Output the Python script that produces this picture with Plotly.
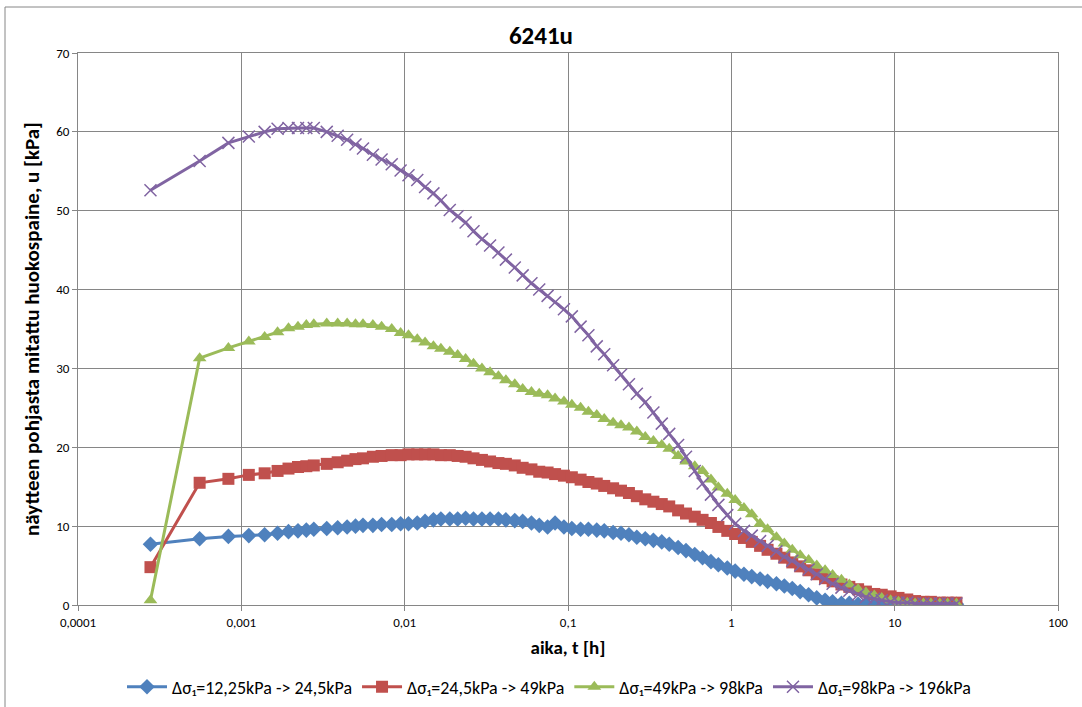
import plotly.graph_objects as go

# time in seconds (converted to hours for plotting)
time_s = [1, 2, 3, 4, 5, 6, 7, 8, 9, 10, 12, 14, 16, 18, 20, 23, 26, 30, 34, 38,
          43, 48, 54, 60, 68, 76, 85, 95, 107, 120, 135, 150, 170, 190, 215, 240,
          270, 300, 340, 380, 430, 480, 540, 600, 680, 760, 850, 950, 1070, 1200,
          1350, 1500, 1700, 1900, 2150, 2400, 2700, 3000, 3400, 3800, 4300, 4800,
          5400, 6000, 6800, 7600, 8500, 9500, 10700, 12000, 13500, 15000, 17000,
          19000, 21500, 24000, 27000, 30000, 34000, 38000, 43000, 48000, 54000,
          60000, 68000, 76000, 86000]
time_h = [t / 3600.0 for t in time_s]

u_blue = [7.7, 8.4, 8.7, 8.8, 8.9, 9.1, 9.3, 9.4, 9.5, 9.6, 9.7, 9.8, 9.9, 10.0, 10.1, 10.1, 10.2, 10.2, 10.3, 10.3,
          10.4, 10.6, 10.8, 10.9, 10.9, 10.9, 11.0, 10.9, 10.9, 10.9, 10.9, 10.8, 10.7, 10.6, 10.4, 10.1,
          9.9, 10.4, 9.9, 9.7, 9.6, 9.6, 9.5, 9.4, 9.2, 9.1, 8.9, 8.6, 8.4, 8.2,
          8.0, 7.7, 7.3, 6.9, 6.4, 6.0, 5.5, 5.1, 4.7, 4.3, 3.9, 3.6,
          3.3, 3.0, 2.7, 2.4, 2.1, 1.7, 1.3, 0.9, 0.6, 0.4, 0.2,
          0.2, 0.1, 0.1, 0.1, 0.1, 0.1, 0.1, 0.1, 0.1, 0.1,
          0.1, 0.1, 0.1, 0.1]
u_red = [4.8, 15.5, 16.0, 16.5, 16.7, 17.0, 17.3, 17.5, 17.6, 17.7, 17.9, 18.1, 18.3, 18.5, 18.6, 18.8, 18.9, 19.0, 19.0, 19.1,
         19.1, 19.1, 19.1, 19.0, 19.0, 18.9, 18.8, 18.6, 18.4, 18.2, 18.0, 17.9, 17.7, 17.4, 17.2, 16.9,
         16.8, 16.6, 16.4, 16.2, 15.9, 15.6, 15.4, 15.1, 14.8, 14.5, 14.2, 13.8, 13.4, 13.1,
         12.8, 12.5, 12.0, 11.6, 11.2, 10.8, 10.4, 9.9, 9.4, 9.0, 8.5, 8.0,
         7.5, 7.0, 6.5, 6.0, 5.4, 4.9, 4.4, 3.9, 3.4, 3.0, 2.6,
         2.3, 2.0, 1.7, 1.4, 1.3, 1.1, 0.9, 0.7, 0.5, 0.4,
         0.4, 0.3, 0.3, 0.3]
u_green = [0.6, 31.3, 32.6, 33.4, 34.0, 34.6, 35.1, 35.3, 35.5, 35.6, 35.7, 35.7, 35.7, 35.6, 35.6, 35.5, 35.3, 35.0, 34.5, 34.2,
           33.7, 33.3, 32.8, 32.5, 32.1, 31.7, 31.2, 30.6, 30.0, 29.5, 29.0, 28.5, 28.0, 27.4, 27.0, 26.8,
           26.6, 26.2, 25.8, 25.4, 25.0, 24.5, 24.1, 23.6, 23.1, 22.8, 22.5, 22.0, 21.3, 20.8,
           20.3, 19.8, 18.9, 18.2, 17.6, 17.0, 15.9, 14.9, 14.1, 13.3, 12.3, 11.5,
           10.3, 9.6, 8.6, 7.8, 7.0, 6.3, 5.7, 5.0, 4.4, 3.8, 3.2,
           2.6, 2.0, 1.6, 1.2, 0.9, 0.6, 0.4, 0.3, 0.2, 0.2,
           0.2, 0.2, 0.2, 0.2]
u_purple = [52.6, 56.3, 58.6, 59.4, 60.0, 60.4, 60.5, 60.5, 60.5, 60.5, 60.0, 59.5, 59.0, 58.4, 57.9, 57.1, 56.5, 55.9, 55.1, 54.5,
            53.9, 53.0, 52.2, 51.3, 50.1, 49.3, 48.5, 47.4, 46.4, 45.6, 44.7, 43.8, 42.8, 41.8, 40.8, 40.0,
            39.2, 38.4, 37.5, 36.6, 35.3, 34.2, 32.8, 31.8, 30.4, 29.2, 28.0, 26.8, 25.7, 24.4,
            23.0, 21.7, 20.3, 18.8, 17.0, 15.4, 14.0, 12.7, 11.4, 10.3, 9.4, 8.8,
            8.1, 7.5, 6.8, 6.1, 5.6, 5.0, 4.5, 3.9, 3.3, 2.7, 2.2,
            1.8, 1.3, 1.0, 0.8, 0.6, 0.4, 0.3, 0.3, 0.2, 0.2,
            0.2, 0.2, 0.2, 0.2]

series_names = ["Δσ₁=12,25kPa -> 24,5kPa", "Δσ₁=24,5kPa -> 49kPa",
                "Δσ₁=49kPa -> 98kPa", "Δσ₁=98kPa -> 196kPa"]
series_vals = [u_blue, u_red, u_green, u_purple]
colors = ["#4F81BD", "#C0504D", "#9BBB59", "#8064A2"]
symbols = ["diamond", "square", "triangle-up", "x-thin"]
sizes = [12, 12, 12, 12]

x_tickvals = [0.0001, 0.001, 0.01, 0.1, 1, 10, 100]
x_ticktext = ["0,0001", "0,001", "0,01", "0,1", "1", "10", "100"]

FONT = "Carlito, Calibri, 'Liberation Sans Narrow', 'DejaVu Sans Condensed', Arial, sans-serif"

fig = go.Figure()
for name, vals, c, s, sz in zip(series_names, series_vals, colors, symbols, sizes):
    marker = dict(symbol=s, size=sz, color=c)
    if s == "x-thin":
        marker["line"] = dict(color=c, width=1.5)
    fig.add_trace(go.Scatter(x=time_h, y=vals, mode="lines+markers", name=name,
                             line=dict(color=c, width=3), marker=marker))

W, H = 1082, 707
L, R, T, B = 78, 1058, 53, 605
fig.update_layout(
    width=W, height=H,
    margin=dict(l=L, r=W - R, t=T, b=H - B, autoexpand=False),
    paper_bgcolor="white", plot_bgcolor="white",
    font=dict(family=FONT, size=13, color="#000000"),
    title=dict(text="<b>6241u</b>", x=0.5, xanchor="center", y=1 - 35 / H, yanchor="middle",
               font=dict(size=25, family=FONT)),
    legend=dict(orientation="h", x=(549 - L) / (R - L), xanchor="center",
                y=(B - 687) / (B - T), yanchor="middle", font=dict(size=18, family=FONT),
                itemwidth=40, tracegroupgap=0),
    xaxis=dict(type="log", range=[-4, 2], tickvals=x_tickvals, ticktext=x_ticktext,
               showgrid=True, gridcolor="#868686", gridwidth=1,
               showline=True, linecolor="#868686", linewidth=1, mirror=True,
               ticks="outside", ticklen=5, tickcolor="#868686", automargin=False,
               tickfont=dict(size=13, family=FONT, color="#000000"),
               title=dict(text="<b>aika, t [h]</b>", font=dict(size=19, family=FONT), standoff=12),
               zeroline=False),
    yaxis=dict(range=[0, 70], dtick=10, tick0=0,
               showgrid=True, gridcolor="#868686", gridwidth=1,
               showline=True, linecolor="#868686", linewidth=1, mirror=True,
               ticks="outside", ticklen=5, tickcolor="#868686", automargin=False,
               tickfont=dict(size=13, family=FONT, color="#000000"),
               title=dict(text="<b>näytteen pohjasta mitattu huokospaine, u [kPa]</b>",
                          font=dict(size=21, family=FONT), standoff=10),
               zeroline=False),
    shapes=[dict(type="rect", xref="paper", yref="paper",
                 x0=(5 - L) / (R - L), x1=(1100 - L) / (R - L),
                 y0=(B - 730) / (B - T), y1=(B - 7) / (B - T),
                 line=dict(color="#868686", width=1), fillcolor="rgba(0,0,0,0)", layer="below")],
)

fig.write_html("out.html", config={"displayModeBar": False},
               post_script="document.body.style.margin='0';document.body.style.overflow='hidden';")
